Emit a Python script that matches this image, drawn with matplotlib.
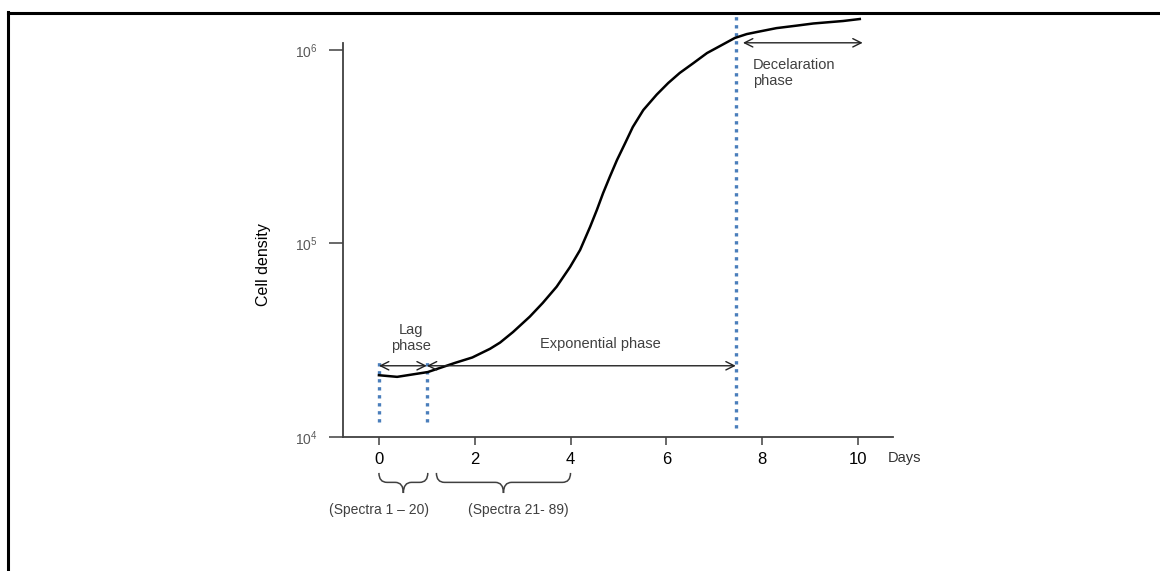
import matplotlib
matplotlib.use('Agg')
import matplotlib.pyplot as plt
import matplotlib.transforms as mtransforms
from matplotlib.path import Path
from matplotlib.patches import PathPatch
from matplotlib.lines import Line2D
from matplotlib import rcParams

rcParams.update({
    "font.family": ["Liberation Sans", "DejaVu Sans"],
    "mathtext.fontset": "custom",
    "mathtext.rm": "Liberation Sans",
    "mathtext.it": "Liberation Sans:italic",
})

# growth curve (days, cells)
days = [0.00, 0.38, 1.02, 1.59, 1.95, 2.32, 2.53, 2.80, 3.15, 3.42, 3.71,
        3.99, 4.20, 4.41, 4.55, 4.68, 4.82, 4.97, 5.14, 5.30, 5.52, 5.80,
        6.04, 6.28, 6.56, 6.85, 7.12, 7.43, 7.68, 7.89, 8.30, 8.73, 9.07,
        9.42, 9.69, 10.04]
density = [20800, 20400, 21600, 24100, 25700, 28500, 30700, 34800, 41800,
           49200, 59700, 75500, 92500, 122000, 149000, 182000, 221000,
           270000, 330000, 400000, 490000, 589000, 676000, 762000, 855000,
           966000, 1050000, 1156000, 1211000, 1241000, 1300000, 1340000,
           1374000, 1397000, 1415000, 1449000]

x_ticks = [0, 2, 4, 6, 8, 10]
y_ticks = [1e4, 1e5, 1e6]
y_ticklabels = [r"$\mathregular{10^4}$", r"$\mathregular{10^5}$", r"$\mathregular{10^6}$"]

# phase boundaries
lag_start = 0.0
lag_end = 1.0
exp_end = 7.45
decel_start = 7.6
decel_end = 10.1

# spectra groups under the x axis
spectra_ranges = [(0.0, 1.02), (1.2, 4.0)]
spectra_labels = ["(Spectra 1 \u2013 20)", "(Spectra 21- 89)"]
spectra_text_x = [0.0, 2.92]

fig = plt.figure(figsize=(11.6, 5.71), dpi=100)
ax = fig.add_axes([0.2957, 0.2352, 0.474, 0.6895])

ax.plot(days, density, color="black", lw=1.8, clip_on=False, zorder=3,
        solid_joinstyle="round")

ax.set_yscale("log")
ax.set_xlim(-0.75, 10.73)
ax.set_ylim(1e4, 10 ** 6.037)
ax.set_xticks(x_ticks)
ax.set_xticklabels([str(t) for t in x_ticks])
ax.set_yticks(y_ticks)
ax.set_yticklabels(y_ticklabels)
ax.yaxis.set_minor_locator(matplotlib.ticker.NullLocator())

for s in ["top", "right"]:
    ax.spines[s].set_visible(False)
for s in ["left", "bottom"]:
    ax.spines[s].set_color("#404040")
    ax.spines[s].set_linewidth(1.3)

ax.tick_params(axis="y", direction="out", length=10, width=1.1, color="#404040",
               labelsize=10, labelcolor="#595959", pad=8)
ax.tick_params(axis="x", direction="out", length=6, width=1.1, color="#404040",
               labelsize=12, labelcolor="black", pad=5)

ax.set_ylabel("Cell density", fontsize=11.5, color="black")
ax.yaxis.set_label_coords(-0.131, 0.436)

# dotted phase markers
blue = "#4a7ebb"
dot = dict(color=blue, lw=2.4, linestyle=(0, (1, 1.4)), clip_on=False, zorder=2)
ax.plot([lag_start, lag_start], [10 ** 4.076, 10 ** 4.407], **dot)
ax.plot([lag_end, lag_end], [10 ** 4.076, 10 ** 4.407], **dot)
ax.plot([exp_end, exp_end], [10 ** 4.045, 10 ** 6.182], **dot)

arrow = dict(arrowstyle="<->, head_length=0.6, head_width=0.3", lw=1.0,
             color="#222222", shrinkA=0, shrinkB=0)
y_arrow = 10 ** 4.367
ax.annotate("", xy=(lag_start, y_arrow), xytext=(lag_end, y_arrow),
            arrowprops=arrow, annotation_clip=False)
ax.annotate("", xy=(lag_end, y_arrow), xytext=(exp_end, y_arrow),
            arrowprops=arrow, annotation_clip=False)
y_dec = 10 ** 6.038
ax.annotate("", xy=(decel_start, y_dec), xytext=(decel_end, y_dec),
            arrowprops=arrow, annotation_clip=False)

txt = dict(fontsize=10.5, color="#404040")
ax.text(0.67, 10 ** 4.511, "Lag\nphase", ha="center", va="center",
        linespacing=1.2, **txt)
ax.text(4.63, 10 ** 4.480, "Exponential phase", ha="center", va="center", **txt)
ax.text(7.81, 10 ** 5.882, "Decelaration\nphase", ha="left", va="center",
        linespacing=1.2, **txt)

trans = mtransforms.blended_transform_factory(ax.transData, ax.transAxes)
ax.text(10.63, -0.054, "Days", transform=trans, ha="left", va="center",
        fontsize=10.5, color="#333333")

# curly braces under the axis
y_top, y_mid, y_tip = -0.092, -0.116, -0.143
r = 0.17
for (x0, x1) in spectra_ranges:
    xm = (x0 + x1) / 2
    verts = [(x0, y_top), (x0, y_mid), (x0 + r, y_mid),
             (xm - r, y_mid), (xm, y_mid), (xm, y_tip),
             (xm, y_mid), (xm + r, y_mid),
             (x1 - r, y_mid), (x1, y_mid), (x1, y_top)]
    codes = [Path.MOVETO, Path.CURVE3, Path.CURVE3,
             Path.LINETO, Path.CURVE3, Path.CURVE3,
             Path.CURVE3, Path.CURVE3,
             Path.LINETO, Path.CURVE3, Path.CURVE3]
    ax.add_patch(PathPatch(Path(verts, codes), transform=trans, fill=False,
                           edgecolor="#404040", lw=1.1, clip_on=False))

for xt, lab in zip(spectra_text_x, spectra_labels):
    ax.text(xt, -0.186, lab, transform=trans, ha="center", va="center",
            fontsize=10, color="#404040")

# frame lines at top and left edge
fig.add_artist(Line2D([7.5 / 1160, 1.0], [1 - 13 / 571, 1 - 13 / 571],
                      transform=fig.transFigure, color="black", lw=2.2))
fig.add_artist(Line2D([7.5 / 1160, 7.5 / 1160], [0.0, 1 - 12 / 571],
                      transform=fig.transFigure, color="black", lw=2.2))

plt.savefig("out.png", dpi=100)
